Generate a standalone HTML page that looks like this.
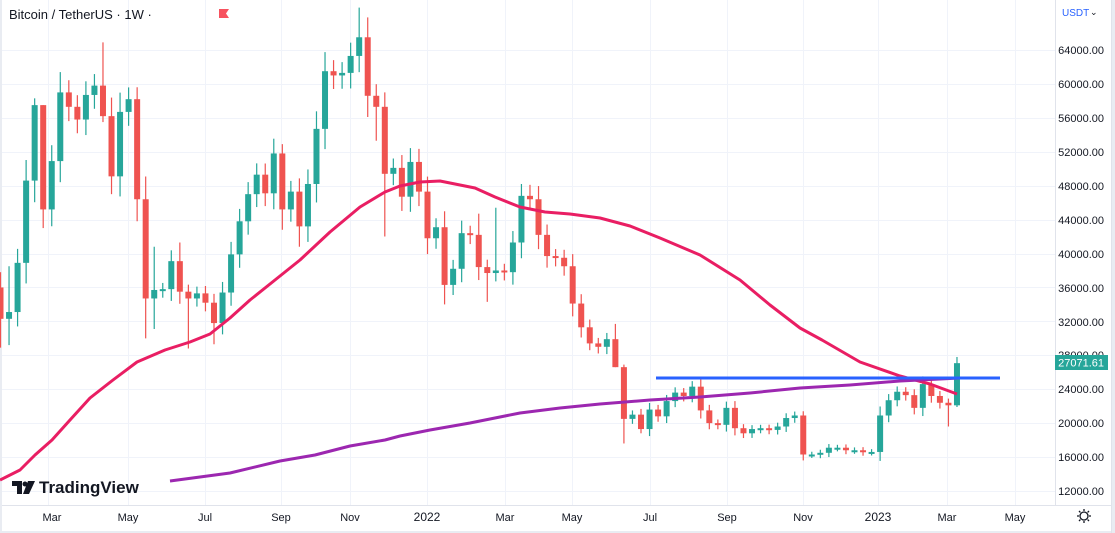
<!DOCTYPE html>
<html><head><meta charset="utf-8"><style>
html,body{margin:0;padding:0;background:#e9ecf2;}
#w{position:relative;width:1115px;height:533px;overflow:hidden;background:#e9ecf2;}
svg{position:absolute;left:0;top:0;}
text{font-family:"Liberation Sans",sans-serif;}
</style></head><body><div id="w">
<svg id="s" width="1115" height="533" viewBox="0 0 1115 533">
<rect x="2" y="0" width="1109" height="531" fill="#fff"/>
<g id="grid" stroke="#f0f3fa" stroke-width="1"></g>
<g id="candles"></g>
<polyline fill="none" stroke="#e91e63" stroke-width="3" stroke-linejoin="round" points="0,480 20,470 35,455 52,440 70,420 90,398 113,380 137,362 165,350 190,342 210,334 230,318 250,300 275,280 300,260 330,232 360,207 385,192 400,186 420,182 440,181 460,185 475,188 495,197 520,207 545,212 570,214 600,218 630,226 660,238 700,255 740,280 770,305 800,328 822,340 860,362 900,376 930,384 957,394"/>
<polyline fill="none" stroke="#9c27b0" stroke-width="3" stroke-linejoin="round" points="170,481 230,473 280,461 315,455 350,446 385,440 400,436 430,430 470,423 520,413 560,408 600,404 650,400 700,397 750,393 800,388 850,385 900,381 960,378"/>
<line x1="656" y1="378" x2="1000" y2="378" stroke="#2962ff" stroke-width="3"/>
<line x1="1055.5" y1="0" x2="1055.5" y2="505" stroke="#e0e3eb"/>
<line x1="2" y1="505.5" x2="1111" y2="505.5" stroke="#e0e3eb"/>
<line x1="1111.5" y1="0" x2="1111.5" y2="533" stroke="#e0e3eb"/>
<g font-size="11" fill="#131722" text-anchor="end">
<text x="1104" y="54">64000.00</text>
<text x="1104" y="88">60000.00</text>
<text x="1104" y="122">56000.00</text>
<text x="1104" y="156">52000.00</text>
<text x="1104" y="190">48000.00</text>
<text x="1104" y="224">44000.00</text>
<text x="1104" y="258">40000.00</text>
<text x="1104" y="292">36000.00</text>
<text x="1104" y="326">32000.00</text>
<text x="1104" y="359">28000.00</text>
<text x="1104" y="393">24000.00</text>
<text x="1104" y="427">20000.00</text>
<text x="1104" y="461">16000.00</text>
<text x="1104" y="495">12000.00</text>
</g>
<rect x="1055" y="355" width="53" height="15" fill="#26a69a"/>
<text x="1104" y="366.5" font-size="11" fill="#fff" text-anchor="end">27071.61</text>
<text x="1062" y="16" font-size="10" fill="#2962ff">USDT</text>
<text x="1090" y="15" font-size="9" fill="#131722">⌄</text>
<g font-size="11" fill="#131722" text-anchor="middle">
<text x="52" y="521">Mar</text><text x="128" y="521">May</text><text x="205" y="521">Jul</text>
<text x="281" y="521">Sep</text><text x="350" y="521">Nov</text><text x="427" y="521" font-size="12">2022</text>
<text x="505" y="521">Mar</text><text x="572" y="521">May</text><text x="650" y="521">Jul</text>
<text x="727" y="521">Sep</text><text x="803" y="521">Nov</text><text x="878" y="521" font-size="12">2023</text>
<text x="947" y="521">Mar</text><text x="1015" y="521">May</text>
</g>
<g transform="translate(1084,516)" fill="none" stroke="#131722" stroke-width="1.3">
<circle r="4"/><path d="M0,-7V-5M0,5V7M-7,0H-5M5,0H7M-5,-5L-3.6,-3.6M5,5L3.6,3.6M-5,5L-3.6,3.6M5,-5L3.6,-3.6"/>
</g>
<text x="9" y="19" font-size="13" fill="#131722">Bitcoin / TetherUS · 1W ·</text>
<path d="M219,9H229L226,13.5L229,18H219Z" fill="#f7525f"/>
<g fill="#131722">
<path d="M12,481H22V494H17V486H12Z"/><circle cx="25" cy="484" r="2.5"/><path d="M28,481H35L29,494H23Z"/>
<text x="39" y="493" font-size="17" font-weight="bold">TradingView</text>
</g>
</svg>
<script>
var C=[32300,33100,38900,48600,57500,45200,50900,59000,57300,55800,58700,59800,56200,49100,56700,58200,46400,34700,35700,35800,39100,35500,34700,35300,34200,31800,35400,39900,43800,47000,49300,47100,51800,45200,47300,43200,48200,54700,61500,61000,61300,63300,65500,58600,57300,49400,50100,46700,50800,47300,41800,43100,36300,38200,42400,42200,38400,37700,38000,37800,41300,46800,46400,42200,39700,39500,38500,34100,31300,29400,29000,29900,26600,20500,21000,19300,21600,20800,22600,23600,23200,24300,21500,20000,19800,21800,19400,18800,19300,19400,19200,19600,20600,20900,16300,16300,16500,17100,17100,16800,16800,16600,16600,20900,22700,23700,23300,21800,24600,23200,22400,22100,27071];
var HL={0:[37800,28900],1:[38500,29200],4:[58300],5:[57500,43000],12:[64900,55500],13:[null,47000],16:[59600,43800],17:[null,30000],18:[40800,31100],21:[41300],22:[null,28800],25:[null,29300],33:[52900,42800],35:[null,40800],42:[69000],44:[null,53300],45:[59000,42000],52:[null,34000],56:[44700],57:[null,34300],58:[45400],61:[48200],62:[48100],69:[null,28600],72:[31700,26600],73:[26900,17600],75:[null,18800],82:[25200],94:[21400,15600],111:[null,19600],112:[27800,21900]};
function y(p){return 50+(64000-p)*0.00848;}
var g=document.getElementById('candles'),gr=document.getElementById('grid'),s='',t='';
for(var k=0;k<14;k++){var yy=Math.round(y(64000-k*4000))+0.5;t+='<line x1="2" x2="1055" y1="'+yy+'" y2="'+yy+'"/>';}
[48,128,205,281,350,427,505,572,650,727,803,878,947,1015].forEach(function(x){t+='<line y1="0" y2="505" x1="'+(x+0.5)+'" x2="'+(x+0.5)+'"/>';});
gr.innerHTML=t;
var o=36000;
for(var i=0;i<C.length;i++){var c=C[i],x=0.5+i*8.54;var hi=Math.max(o,c),lo=Math.min(o,c);
var h=hi+ (hi-lo)*0.15+hi*0.02, l=lo-(hi-lo)*0.15-lo*0.025;
if(HL[i]){if(HL[i][0])h=HL[i][0];if(HL[i][1])l=HL[i][1];}
var col=c>=o?'#26a69a':'#ef5350';
s+='<line x1="'+x+'" x2="'+x+'" y1="'+y(h)+'" y2="'+y(l)+'" stroke="'+col+'" stroke-width="1.2"/>';
var yt=y(hi),yb=y(lo);if(yb-yt<2){yb=yt+2;}
s+='<rect x="'+(x-3)+'" y="'+yt+'" width="6" height="'+(yb-yt)+'" fill="'+col+'"/>';
o=c;}
g.innerHTML=s;
</script>
</div></body></html>
